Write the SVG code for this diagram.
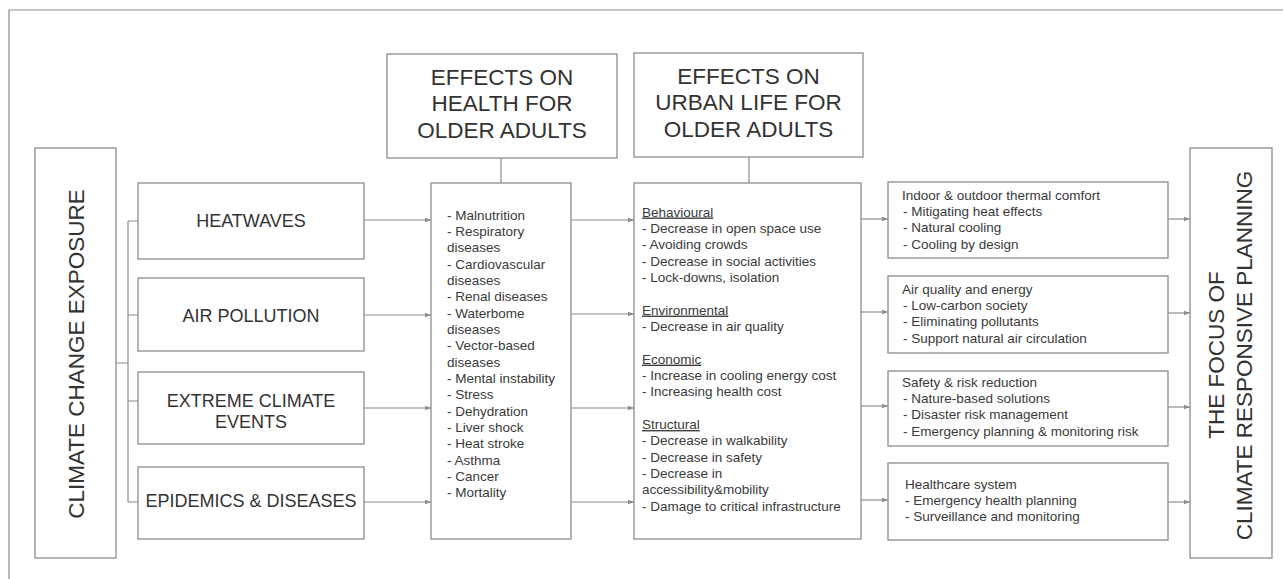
<svg xmlns="http://www.w3.org/2000/svg" width="1283" height="579" viewBox="0 0 1283 579">
<style>
.box{fill:#fff;stroke:#8c8c8c;stroke-width:1.3}
.ln{fill:none;stroke:#8c8c8c;stroke-width:1.2}
.hd{font-family:"Liberation Sans",Arial,sans-serif;font-size:22.5px;fill:#333;text-anchor:middle}
.ex{font-family:"Liberation Sans",Arial,sans-serif;font-size:18px;fill:#333;text-anchor:middle}
.li{font-family:"Liberation Sans",Arial,sans-serif;font-size:13.5px;fill:#3a3a3a}
.u{text-decoration:underline}
</style>
<defs>
<marker id="ah" viewBox="0 0 6 6" refX="6" refY="3" markerWidth="6" markerHeight="6" markerUnits="userSpaceOnUse" orient="auto">
<path d="M0,0.8 L6,3 L0,5.2 z" fill="#8c8c8c"/>
</marker>
</defs>
<rect width="1283" height="579" fill="#fff"/>
<path class="ln" d="M9,579 V10 H1283" stroke="#999"/>

<g id="connectors">
<path class="ln" d="M116,363 H128 M128,221 V502 M128,221 H138 M128,315 H138 M128,401 H138 M128,502 H138"/>
<path class="ln" d="M501,158 V183 M749,157 V183"/>
<path class="ln" marker-end="url(#ah)" d="M364,220 H431"/>
<path class="ln" marker-end="url(#ah)" d="M364,315 H431"/>
<path class="ln" marker-end="url(#ah)" d="M364,408 H431"/>
<path class="ln" marker-end="url(#ah)" d="M364,502 H431"/>
<path class="ln" marker-end="url(#ah)" d="M571,220 H634"/>
<path class="ln" marker-end="url(#ah)" d="M571,314 H634"/>
<path class="ln" marker-end="url(#ah)" d="M571,408 H634"/>
<path class="ln" marker-end="url(#ah)" d="M571,502 H634"/>
<path class="ln" marker-end="url(#ah)" d="M861,219 H888"/>
<path class="ln" marker-end="url(#ah)" d="M861,312 H888"/>
<path class="ln" marker-end="url(#ah)" d="M861,406 H888"/>
<path class="ln" marker-end="url(#ah)" d="M861,500 H888"/>
<path class="ln" marker-end="url(#ah)" d="M1168,219 H1190"/>
<path class="ln" marker-end="url(#ah)" d="M1168,313 H1190"/>
<path class="ln" marker-end="url(#ah)" d="M1168,407 H1190"/>
<path class="ln" marker-end="url(#ah)" d="M1168,502 H1190"/>
</g>

<g id="exposure">
<rect class="box" x="35" y="148" width="81" height="410"/>
<text class="hd" transform="translate(84,354) rotate(-90)">CLIMATE CHANGE EXPOSURE</text>
</g>

<g id="heatwaves">
<rect class="box" x="138" y="183" width="226" height="76"/>
<text class="ex" x="251" y="226.5">HEATWAVES</text>
</g>
<g id="airpollution">
<rect class="box" x="138" y="278" width="226" height="73"/>
<text class="ex" x="251" y="321.5">AIR POLLUTION</text>
</g>
<g id="extreme">
<rect class="box" x="138" y="372" width="226" height="72"/>
<text class="ex" x="251" y="406.5">EXTREME CLIMATE</text>
<text class="ex" x="251" y="428">EVENTS</text>
</g>
<g id="epidemics">
<rect class="box" x="138" y="467" width="226" height="72"/>
<text class="ex" x="251" y="506.5">EPIDEMICS &amp; DISEASES</text>
</g>

<g id="health-header">
<rect class="box" x="387" y="54" width="230" height="104"/>
<text class="hd" x="502" y="84.5">EFFECTS ON</text>
<text class="hd" x="502" y="111">HEALTH FOR</text>
<text class="hd" x="502" y="137.5">OLDER ADULTS</text>
</g>
<g id="urban-header">
<rect class="box" x="634" y="53" width="229" height="104"/>
<text class="hd" x="748.5" y="83.5">EFFECTS ON</text>
<text class="hd" x="748.5" y="110">URBAN LIFE FOR</text>
<text class="hd" x="748.5" y="136.5">OLDER ADULTS</text>
</g>

<g id="health-list">
<rect class="box" x="431" y="183" width="140" height="356"/>
<text class="li">
<tspan x="447" y="219.5">- Malnutrition</tspan>
<tspan x="447" dy="16.35">- Respiratory</tspan>
<tspan x="447" dy="16.35">diseases</tspan>
<tspan x="447" dy="16.35">- Cardiovascular</tspan>
<tspan x="447" dy="16.35">diseases</tspan>
<tspan x="447" dy="16.35">- Renal diseases</tspan>
<tspan x="447" dy="16.35">- Waterbome</tspan>
<tspan x="447" dy="16.35">diseases</tspan>
<tspan x="447" dy="16.35">- Vector-based</tspan>
<tspan x="447" dy="16.35">diseases</tspan>
<tspan x="447" dy="16.35">- Mental instability</tspan>
<tspan x="447" dy="16.35">- Stress</tspan>
<tspan x="447" dy="16.35">- Dehydration</tspan>
<tspan x="447" dy="16.35">- Liver shock</tspan>
<tspan x="447" dy="16.35">- Heat stroke</tspan>
<tspan x="447" dy="16.35">- Asthma</tspan>
<tspan x="447" dy="16.35">- Cancer</tspan>
<tspan x="447" dy="16.35">- Mortality</tspan>
</text>
</g>

<g id="urban-list">
<rect class="box" x="634" y="183" width="227" height="356"/>
<text class="li">
<tspan x="642" y="216.5" class="u">Behavioural</tspan>
<tspan x="642" dy="16.35">- Decrease in open space use</tspan>
<tspan x="642" dy="16.35">- Avoiding crowds</tspan>
<tspan x="642" dy="16.35">- Decrease in social activities</tspan>
<tspan x="642" dy="16.35">- Lock-downs, isolation</tspan>
<tspan x="642" dy="32.7" class="u">Environmental</tspan>
<tspan x="642" dy="16.35">- Decrease in air quality</tspan>
<tspan x="642" dy="32.7" class="u">Economic</tspan>
<tspan x="642" dy="16.35">- Increase in cooling energy cost</tspan>
<tspan x="642" dy="16.35">- Increasing health cost</tspan>
<tspan x="642" dy="32.7" class="u">Structural</tspan>
<tspan x="642" dy="16.35">- Decrease in walkability</tspan>
<tspan x="642" dy="16.35">- Decrease in safety</tspan>
<tspan x="642" dy="16.35">- Decrease in</tspan>
<tspan x="642" dy="16.35">accessibility&amp;mobility</tspan>
<tspan x="642" dy="16.35">- Damage to critical infrastructure</tspan>
</text>
</g>

<g id="thermal">
<rect class="box" x="888" y="182" width="280" height="76"/>
<text class="li">
<tspan x="902" y="199.5">Indoor &amp; outdoor thermal comfort</tspan>
<tspan x="903" dy="16.4">- Mitigating heat effects</tspan>
<tspan x="903" dy="16.4">- Natural cooling</tspan>
<tspan x="903" dy="16.4">- Cooling by design</tspan>
</text>
</g>
<g id="airquality">
<rect class="box" x="888" y="276" width="280" height="77"/>
<text class="li">
<tspan x="902" y="293.5">Air quality and energy</tspan>
<tspan x="903" dy="16.4">- Low-carbon society</tspan>
<tspan x="903" dy="16.4">- Eliminating pollutants</tspan>
<tspan x="903" dy="16.4">- Support natural air circulation</tspan>
</text>
</g>
<g id="safety">
<rect class="box" x="888" y="371" width="280" height="75"/>
<text class="li">
<tspan x="902" y="386.5">Safety &amp; risk reduction</tspan>
<tspan x="903" dy="16.4">- Nature-based solutions</tspan>
<tspan x="903" dy="16.4">- Disaster risk management</tspan>
<tspan x="903" dy="16.4">- Emergency planning &amp; monitoring risk</tspan>
</text>
</g>
<g id="healthcare">
<rect class="box" x="888" y="463" width="280" height="77"/>
<text class="li">
<tspan x="905" y="488.5">Healthcare system</tspan>
<tspan x="905" dy="16.4">- Emergency health planning</tspan>
<tspan x="905" dy="16.4">- Surveillance and monitoring</tspan>
</text>
</g>

<g id="focus">
<rect class="box" x="1190" y="148" width="82" height="410"/>
<text class="hd" transform="translate(1223.5,355) rotate(-90)">THE FOCUS OF</text>
<text class="hd" transform="translate(1252,355.5) rotate(-90)">CLIMATE RESPONSIVE PLANNING</text>
</g>
</svg>
